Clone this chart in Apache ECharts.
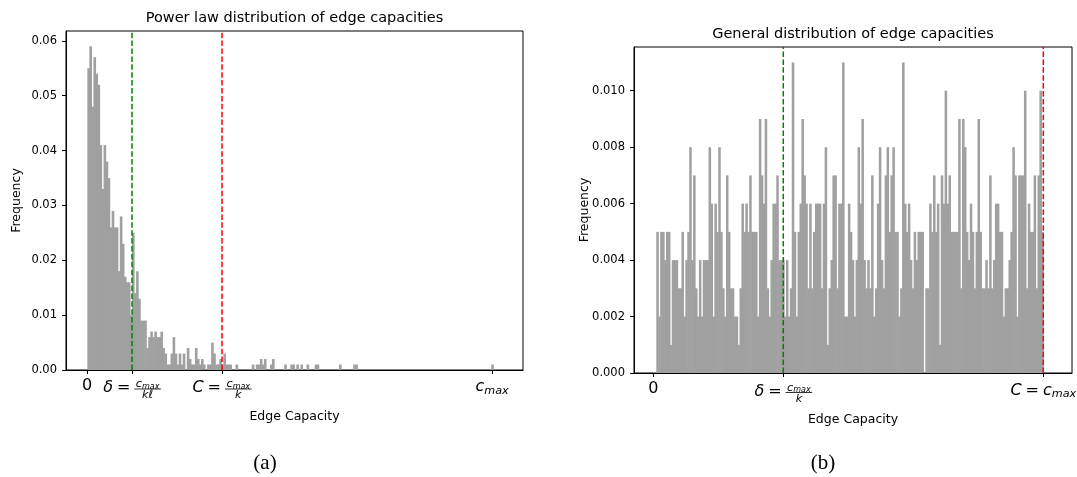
<!DOCTYPE html>
<html><head><meta charset="utf-8">
<script src="https://cdn.jsdelivr.net/npm/echarts@6/dist/echarts.min.js"></script>
<style>html,body{margin:0;padding:0;background:#fff}#c{width:1077px;height:477px}</style>
</head><body><div id="c"></div>
<script>
// ---------------- data ----------------
const leftFreq = [
 0.055,0.059,0.048,0.057,0.054,0.052,0.041,0.033,0.041,0.038,
 0.035,0.026,0.029,0.026,0.026,0.018,0.028,0.023,0.017,0.016,
 0.016,0.010,0.025,0.014,0.018,0.013,0.009,0.009,0.009,0.004,
 0.006,0.007,0.006,0.007,0.006,0.006,0.007,0.004,0.003,0.001,
 0.001,0.003,0.006,0.003,0.001,0.003,0.001,0.003,0,0.004,
 0.002,0.001,0.001,0.004,0.002,0.001,0.002,0.001,0,0.001,
 0.001,0.005,0.003,0.001,0.001,0.002,0.001,0.003,0.001,0.001,
 0.001,0,0,0.001,0,0,0,0,0,0,
 0,0.001,0,0.001,0.001,0.002,0.001,0.002,0,0,
 0.001,0.002,0,0,0,0,0,0.001,0,0,
 0.001,0.001,0,0.001,0,0.001,0,0,0.001,0,
 0,0,0.001,0.001,0,0,0,0,0,0,
 0,0,0,0,0.001,0,0,0,0,0,
 0,0.001,0.001,0,0,0,0,0,0,0,
 0,0,0,0,0,0,0,0,0,0,
 0,0,0,0,0,0,0,0,0,0,
 0,0,0,0,0,0,0,0,0,0,
 0,0,0,0,0,0,0,0,0,0,
 0,0,0,0,0,0,0,0,0,0,
 0,0,0,0,0,0,0,0,0,0.001
];
const rightFreq = [
 0.005,0.002,0.005,0.005,0.004,0.005,0.005,0.001,0.004,0.004,0.004,
 0.003,0.003,0.005,0.002,0.004,0.005,0.008,0.004,0.007,0.003,
 0.002,0.004,0.002,0.004,0.004,0.004,
 0.008,0.006,0.002,0.006,0.005,
 0.008,0.005,0.003,0.002,0.007,0.005,0.003,0.003,0.002,0.002,
 0.001,
 0.003,0.006,0.005,0.006,0.005,0.007,0.005,0.005,0.005,0.002,
 0.009,0.007,0.006,0.009,0.003,0.002,0.004,0.006,0.006,0.007,
 0.004,0.004,0.004,0.002,0.004,0.002,0.003,0.011,
 0.005,0.002,0.005,0.006,0.009,0.007,0.006,0.003,0.006,0.003,0.005,0.006,0.006,0.006,0.003,0.006,0.008,0.001,0.003,
 0.004,0.007,0.007,0.003,0.006,0.006,0.011,0.002,0.002,0.006,
 0.005,0.004,0.002,0.004,0.008,0.006,0.009,0.004,0.003,0.004,
 0.003,0.007,0.002,0.003,0.006,0.008,0.004,0.003,0.007,0.008,
 0.005,0.007,0.008,0.005,0.005,0.002,0.003,0.011,0.006,0.005,
 0.006,0.004,0.003,0.005,0.004,0.005,0.005,0.005,
 0,0.003,0.003,0.006,0.005,0.007,0.005,0.006,0.001,0.007,0.006,0.010,0.006,
 0.007,0.005,0.005,0.005,0.005,
 0.009,0.003,0.009,0.008,0.005,0.004,0.006,0.005,0.003,0.005,0.009,0.005,0.003,0.003,0.004,
 0.003,0.007,0.003,0.004,0.006,0.006,0.005,0.005,0.002,0.003,0.003,0.004,0.005,0.008,0.007,
 0.002,0.007,0.007,0.007,0.010,0.003,0.006,0.005,0.005,0.007,0.003,0.007,0.010,0.005
];
// histogram bin span, in units of c_max
const leftBinRange = [0.0008, 1.003];
const rightBinRange = [0.0077, 1.0];
// reference lines (units of c_max): delta = c_max/(k*l), C = c_max/k
const leftDelta = 1/9, leftC = 1/3;
const rightDelta = 1/3, rightC = 1;
const leftXTicks = [0, leftDelta, leftC, 1];
const rightXTicks = [0, rightDelta, 1];
const leftYTicks = [0, 0.01, 0.02, 0.03, 0.04, 0.05, 0.06];
const rightYTicks = [0, 0.002, 0.004, 0.006, 0.008, 0.010];
const titles = ['Power law distribution of edge capacities', 'General distribution of edge capacities'];
const xName = 'Edge Capacity', yName = 'Frequency';
const captions = ['(a)', '(b)'];

// ---------------- layout ----------------
const G = [
  {left: 66, top: 31, width: 457, height: 339, xmin: -0.0519, xmax: 1.0765, ymax: 0.0618},
  {left: 634, top: 47, width: 438, height: 326, xmin: -0.0495, xmax: 1.0736, ymax: 0.01155}
];
const BAR = '#a0a0a0';
const FONT = "'DejaVu Sans'";

function hist(freq, range) {
  const w = (range[1] - range[0]) / freq.length;
  return freq.map((f, i) => [range[0] + i * w, range[0] + (i + 1) * w, f]);
}
function renderBar(params, api) {
  const y = api.value(2);
  if (!y) return null;
  const p0 = api.coord([api.value(0), y]);
  const p1 = api.coord([api.value(1), 0]);
  return {type: 'rect', shape: {x: p0[0], y: p0[1], width: p1[0] - p0[0] + 0.6, height: p1[1] - p0[1]},
          style: {fill: BAR}, silent: true};
}
function vline(idx, x, color) {
  return {type: 'line', xAxisIndex: idx, yAxisIndex: idx, data: [[x, 0], [x, G[idx].ymax]],
          symbol: 'none', silent: true, z: 5, animation: false,
          lineStyle: {color: color, width: 1.5, type: [5.5, 2.4]}};
}
const axisLineStyle = {show: true, onZero: false, lineStyle: {color: '#000', width: 1}};
function xAxisCfg(i, ticks) {
  return {gridIndex: i, type: 'value', min: G[i].xmin, max: G[i].xmax, position: 'bottom',
    axisLine: axisLineStyle, splitLine: {show: false},
    axisTick: {show: true, customValues: ticks, length: 4, lineStyle: {color: '#000', width: 1}},
    axisLabel: {show: false}};
}
function yAxisCfg(i, ticks, dec) {
  return {gridIndex: i, type: 'value', min: 0, max: G[i].ymax, position: 'left',
    axisLine: axisLineStyle, splitLine: {show: false},
    axisTick: {show: true, customValues: ticks, length: 4, lineStyle: {color: '#000', width: 1}},
    axisLabel: {show: true, customValues: ticks, margin: 9, color: '#000', fontSize: 11.5, fontFamily: FONT,
      formatter: v => v.toFixed(dec)}};
}

const chart = echarts.init(document.getElementById('c'), null, {renderer: 'canvas'});
chart.setOption({
  animation: false,
  backgroundColor: '#fff',
  grid: G.map(g => ({left: g.left, top: g.top, width: g.width, height: g.height, show: true,
    borderColor: '#000', borderWidth: 1, backgroundColor: 'transparent', containLabel: false})),
  xAxis: [xAxisCfg(0, leftXTicks), xAxisCfg(1, rightXTicks)],
  yAxis: [yAxisCfg(0, leftYTicks, 2), yAxisCfg(1, rightYTicks, 3)],
  series: [
    {type: 'custom', xAxisIndex: 0, yAxisIndex: 0, renderItem: renderBar, data: hist(leftFreq, leftBinRange),
     encode: {x: [0, 1], y: 2}, clip: true},
    {type: 'custom', xAxisIndex: 1, yAxisIndex: 1, renderItem: renderBar, data: hist(rightFreq, rightBinRange),
     encode: {x: [0, 1], y: 2}, clip: true},
    vline(0, leftDelta, '#008000'), vline(0, leftC, '#ff0000'),
    vline(1, rightDelta, '#008000'), vline(1, rightC, '#ff0000')
  ]
});

// ---------------- text (titles, axis names, math tick labels) ----------------
const mctx = document.createElement('canvas').getContext('2d');
function fnt(size, it) { return (it ? 'italic ' : '') + size + 'px ' + FONT; }
function tw(s, size, it) { mctx.font = fnt(size, it); return mctx.measureText(s).width; }
function textEl(s, x, y, size, it, align) {
  return {type: 'text', x: x, y: y, silent: true, z: 10,
    style: {text: s, font: fnt(size, it), fill: '#000', align: align || 'left', verticalAlign: 'middle'}};
}
function seqW(tokens) { return tokens.reduce((a, t) => a + tw(t.s, t.size, t.it), 0); }
function fracW(f) { return Math.max(seqW(f.num), seqW(f.den)) + 3; }
function itemW(it) { return it.frac ? fracW(it) : (it.gap !== undefined ? it.gap : tw(it.s, it.size, it.it)); }
function drawFrac(f, x, midY) {
  const W = fracW(f), barY = midY + f.bar;
  const els = [{type: 'line', silent: true, z: 10, shape: {x1: x, y1: barY, x2: x + W, y2: barY},
    style: {stroke: '#000', lineWidth: 0.8}}];
  let nx = x + (W - seqW(f.num)) / 2;
  f.num.forEach(t => { els.push(textEl(t.s, nx, barY + t.dy, t.size, t.it)); nx += tw(t.s, t.size, t.it); });
  let dx = x + (W - seqW(f.den)) / 2;
  f.den.forEach(t => { els.push(textEl(t.s, dx, barY + t.dy, t.size, t.it)); dx += tw(t.s, t.size, t.it); });
  return els;
}
function mathLabel(cx, midY, items) {
  const ws = items.map(itemW);
  let x = cx - ws.reduce((a, b) => a + b, 0) / 2;
  const els = [];
  items.forEach((it, i) => {
    if (it.frac) els.push(...drawFrac(it, x, midY));
    else if (it.s) els.push(textEl(it.s, x, midY + (it.dy || 0), it.size, it.it));
    x += ws[i];
  });
  return els;
}
const M = 16, S = 11.2, FR = 11.2, FRS = 8;
const cmaxNum = [{s: 'c', size: FR, it: true, dy: -4.5}, {s: 'max', size: FRS, it: true, dy: -2.5}];
const lab = {
  zero: () => [{s: '0', size: M}],
  deltaFrac: den => [{s: 'δ', size: M, it: true}, {gap: 4}, {s: '=', size: M}, {gap: 4},
    {frac: true, bar: 1, num: cmaxNum, den: [{s: den, size: FR, it: true, dy: 6.5}]}],
  cFrac: () => [{s: 'C', size: M, it: true}, {gap: 4}, {s: '=', size: M}, {gap: 4},
    {frac: true, bar: 1, num: cmaxNum, den: [{s: 'k', size: FR, it: true, dy: 6.5}]}],
  cmax: () => [{s: 'c', size: M, it: true}, {s: 'max', size: S, it: true, dy: 4}],
  cEq: () => [{s: 'C', size: M, it: true}, {gap: 4}, {s: '=', size: M}, {gap: 4},
    {s: 'c', size: M, it: true}, {s: 'max', size: S, it: true, dy: 4}]
};

function px(i, v) { return chart.convertToPixel({xAxisIndex: i}, v); }
const els = [];
G.forEach((g, i) => {
  const axisY = g.top + g.height;
  const cx = g.left + g.width / 2;
  els.push(textEl(titles[i], cx, g.top - 13, 14.5, false, 'center'));
  els.push(textEl(xName, cx, axisY + 47, 12.5, false, 'center'));
  const yn = textEl(yName, g.left - 49, g.top + g.height / 2, 12.5, false, 'center');
  yn.rotation = Math.PI / 2; yn.originX = 0; yn.originY = 0;
  els.push(yn);
});
const ay0 = G[0].top + G[0].height, ay1 = G[1].top + G[1].height;
els.push(...mathLabel(px(0, leftXTicks[0]), ay0 + 15.5, lab.zero()));
els.push(...mathLabel(px(0, leftXTicks[1]), ay0 + 18, lab.deltaFrac('kℓ')));
els.push(...mathLabel(px(0, leftXTicks[2]), ay0 + 18, lab.cFrac()));
els.push(...mathLabel(px(0, leftXTicks[3]), ay0 + 17, lab.cmax()));
els.push(...mathLabel(px(1, rightXTicks[0]), ay1 + 15.5, lab.zero()));
els.push(...mathLabel(px(1, rightXTicks[1]), ay1 + 18.5, lab.deltaFrac('k')));
els.push(...mathLabel(px(1, rightXTicks[2]), ay1 + 17.5, lab.cEq()));
[265, 823].forEach((x, i) => {
  els.push({type: 'text', x: x, y: 463, silent: true,
    style: {text: captions[i], font: "21px 'Liberation Serif'", fill: '#000', align: 'center', verticalAlign: 'middle'}});
});
chart.setOption({graphic: {elements: els}});
</script>
</body></html>
